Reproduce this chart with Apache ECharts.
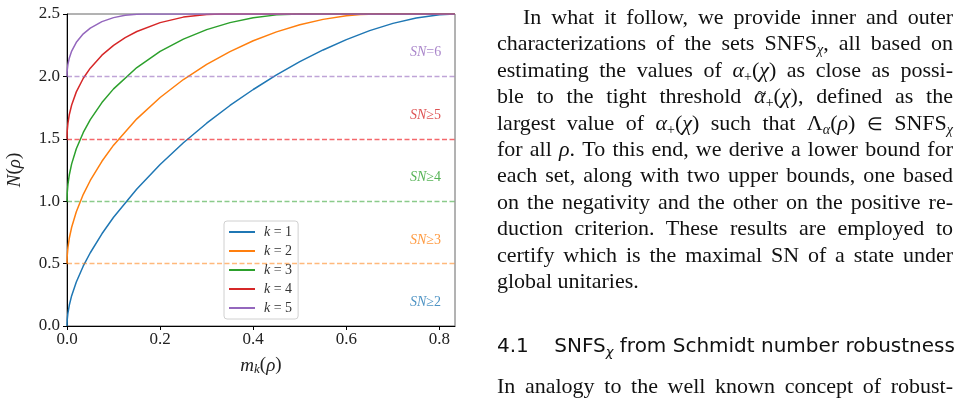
<!DOCTYPE html>
<html>
<head>
<meta charset="utf-8">
<script src="https://cdn.jsdelivr.net/npm/echarts@6/dist/echarts.min.js"></script>
<style>
	html, body { margin: 0; padding: 0; background: #fff; }
	#chart { position: absolute; left: 0; top: 0; width: 969px; height: 405px; }
	#text { position: absolute; left: 497px; top: 4px; width: 456px; font-family: 'Liberation Serif', serif; font-size: 22px; color: #111; }
	#text .ln { height: 26.4px; line-height: 26.4px; white-space: nowrap; text-align: justify; text-align-last: justify; }
	#text .ln.last { text-align-last: left; }
	#text i { font-style: italic; }
	#text sub { font-size: 14px; line-height: 0; vertical-align: -4px; }
	.tl { position: relative; display: inline-block; }
	.tl b { position: absolute; left: 3px; top: 1px; font-weight: normal; font-size: 17px; line-height: 17px; }
	.el { font-size: 18px; }
	#head { position: absolute; left: 497px; top: 333px; width: 456px; font-family: 'DejaVu Sans', sans-serif; font-size: 20px; color: #111; white-space: nowrap; }
	#head sub { font-size: 13px; vertical-align: -4px; line-height: 0; }
	#para { position: absolute; left: 497px; top: 373px; width: 456px; font-family: 'Liberation Serif', serif; font-size: 22px; color: #111; white-space: nowrap; text-align: justify; text-align-last: justify; }
</style>
</head>
<body>
<div id="chart"></div>
<div id="text">
	<div class="ln" style="padding-left:26px">In what it follow, we provide inner and outer</div>
	<div class="ln">characterizations of the sets SNFS<sub><i>χ</i></sub>, all based on</div>
	<div class="ln">estimating the values of <i>α</i><sub>+</sub>(<i>χ</i>) as close as possi-</div>
	<div class="ln">ble to the tight threshold <span class="tl"><i>α</i><b>~</b></span><sub>+</sub>(<i>χ</i>), defined as the</div>
	<div class="ln">largest value of <i>α</i><sub>+</sub>(<i>χ</i>) such that Λ<sub><i>α</i></sub>(<i>ρ</i>) <span class="el">∈</span> SNFS<sub><i>χ</i></sub></div>
	<div class="ln">for all <i>ρ</i>. To this end, we derive a lower bound for</div>
	<div class="ln">each set, along with two upper bounds, one based</div>
	<div class="ln">on the negativity and the other on the positive re-</div>
	<div class="ln">duction criterion. These results are employed to</div>
	<div class="ln">certify which is the maximal SN of a state under</div>
	<div class="ln last">global unitaries.</div>
</div>
<div id="head">4.1&nbsp;&nbsp;&nbsp;&nbsp;SNFS<sub><i>χ</i></sub> from Schmidt number robustness</div>
<div id="para">In analogy to the well known concept of robust-</div>
<script>
// values: m_k(rho) on x, N(rho) on y, one pair of arrays per k
var mK1 = [0, 0.0005, 0.002, 0.005, 0.01, 0.02, 0.035, 0.05, 0.075, 0.1, 0.15, 0.2, 0.25, 0.3, 0.35, 0.4, 0.45, 0.5, 0.55, 0.6, 0.65, 0.7, 0.75, 0.8, 0.833];
var nK1 = [0, 0.051, 0.104, 0.168, 0.243, 0.353, 0.481, 0.587, 0.739, 0.871, 1.098, 1.294, 1.468, 1.625, 1.767, 1.895, 2.012, 2.118, 2.212, 2.295, 2.367, 2.425, 2.468, 2.494, 2.5];

var mK2 = [0, 0.0005, 0.002, 0.005, 0.01, 0.02, 0.035, 0.05, 0.075, 0.1, 0.15, 0.2, 0.25, 0.3, 0.35, 0.4, 0.45, 0.5, 0.55, 0.6, 0.63, 0.667, 0.833];
var nK2 = [0.5, 0.564, 0.628, 0.705, 0.791, 0.916, 1.055, 1.166, 1.32, 1.449, 1.66, 1.831, 1.975, 2.096, 2.199, 2.286, 2.357, 2.414, 2.457, 2.486, 2.496, 2.5, 2.5];

var mK3 = [0, 0.0005, 0.002, 0.005, 0.01, 0.02, 0.035, 0.05, 0.075, 0.1, 0.15, 0.2, 0.25, 0.3, 0.35, 0.4, 0.45, 0.5, 0.833];
var nK3 = [1, 1.067, 1.134, 1.212, 1.299, 1.42, 1.551, 1.654, 1.79, 1.9, 2.071, 2.2, 2.299, 2.375, 2.431, 2.47, 2.493, 2.5, 2.5];

var mK4 = [0, 0.0005, 0.002, 0.005, 0.01, 0.02, 0.035, 0.05, 0.075, 0.1, 0.125, 0.15, 0.2, 0.25, 0.3, 0.333, 0.833];
var nK4 = [1.5, 1.563, 1.624, 1.695, 1.771, 1.876, 1.985, 2.066, 2.17, 2.249, 2.31, 2.36, 2.431, 2.475, 2.496, 2.5, 2.5];

var mK5 = [0, 0.0005, 0.002, 0.005, 0.01, 0.02, 0.035, 0.05, 0.075, 0.1, 0.125, 0.15, 0.167, 0.833];
var nK5 = [2, 2.049, 2.096, 2.148, 2.203, 2.273, 2.341, 2.387, 2.439, 2.471, 2.49, 2.498, 2.5, 2.5];

var seriesNames = ['k=1', 'k=2', 'k=3', 'k=4', 'k=5'];
var thresholds = [null, 0.5, 1.0, 1.5, 2.0];   // dashed line drawn in the colour of curve k
var snLabels = ['≥2', '≥3', '≥4', '≥5', '=6'];
var snLabelY = [0.19, 0.69, 1.19, 1.69, 2.19];
var xTicks = [0, 0.2, 0.4, 0.6, 0.8];
var yTicks = [0, 0.5, 1.0, 1.5, 2.0, 2.5];

var colors = ['#1f77b4', '#ff7f0e', '#2ca02c', '#d62728', '#9467bd'];
var dashColors = [null, 'rgba(255,127,14,0.55)', 'rgba(44,160,44,0.55)', 'rgba(240,40,45,0.7)', 'rgba(148,103,189,0.6)'];
var xs = [mK1, mK2, mK3, mK4, mK5];
var ys = [nK1, nK2, nK3, nK4, nK5];

var serif = 'Liberation Serif';
var myChart = echarts.init(document.getElementById('chart'));

var series = [];
for (var i = 0; i < seriesNames.length; i++) {
	var pts = [];
	for (var j = 0; j < xs[i].length; j++) {
		pts.push([xs[i][j], ys[i][j]]);
	}
	var s = {
		type: 'line',
		name: seriesNames[i],
		data: pts,
		showSymbol: false,
		symbol: 'none',
		silent: true,
		lineStyle: { color: colors[i], width: 1.5 },
		itemStyle: { color: colors[i] },
		z: 3,
		markPoint: {
			silent: true,
			symbol: 'circle',
			symbolSize: 0,
			animation: false,
			label: {
				show: true,
				position: 'inside',
				formatter: '{i|SN}{n|' + snLabels[i] + '}',
				rich: {
					i: { fontFamily: serif, fontStyle: 'italic', fontSize: 14, color: colors[i], opacity: 0.8 },
					n: { fontFamily: serif, fontSize: 14, color: colors[i], opacity: 0.8 }
				}
			},
			data: [{ coord: [0.77, snLabelY[i]] }]
		}
	};
	if (thresholds[i] != null) {
		var ls = { color: dashColors[i], type: [5, 2.5], width: 1.3 };
		s.markLine = {
			silent: true,
			symbol: 'none',
			animation: false,
			label: { show: false },
			lineStyle: ls,
			data: [{ yAxis: thresholds[i], lineStyle: ls }]
		};
	}
	series.push(s);
}

var option = {
	animation: false,
	grid: {
		left: 67, top: 14, width: 388, height: 312,
		show: true, borderColor: '#666', borderWidth: 1
	},
	legend: {
		orient: 'vertical',
		left: 224, top: 221,
		padding: [4, 6, 4, 5],
		itemGap: 5,
		itemWidth: 26,
		itemHeight: 2,
		icon: 'rect',
		backgroundColor: 'rgba(255,255,255,0.85)',
		borderColor: '#d0d0d0',
		borderWidth: 1,
		borderRadius: 3,
		data: seriesNames,
		formatter: function(name) {
			return '{i|k}{n| = ' + name.split('=')[1] + '}';
		},
		textStyle: {
			padding: [0, 0, 0, 4],
			lineHeight: 14,
			rich: {
				i: { fontFamily: serif, fontStyle: 'italic', fontSize: 14, color: '#333' },
				n: { fontFamily: serif, fontSize: 14, color: '#333' }
			}
		}
	},
	xAxis: {
		type: 'value',
		min: 0,
		max: 0.8333,
		name: '{i|m}{s|k}{n|(}{i|ρ}{n|)}',
		nameLocation: 'middle',
		nameGap: 29,
		nameTextStyle: {
			rich: {
				i: { fontFamily: serif, fontStyle: 'italic', fontSize: 19, color: '#222' },
				n: { fontFamily: serif, fontSize: 19, color: '#222' },
				s: { fontFamily: serif, fontStyle: 'italic', fontSize: 13, color: '#222', verticalAlign: 'bottom', padding: [8, 0, 0, 0] }
			}
		},
		splitLine: { show: false },
		axisLine: { show: true, onZero: false, lineStyle: { color: '#000', width: 1 } },
		axisTick: { show: true, length: 4, lineStyle: { color: '#000' }, customValues: xTicks },
		axisLabel: {
			margin: 5,
			customValues: xTicks,
			fontFamily: serif, fontSize: 17, color: '#222',
			formatter: function(v) { return v.toFixed(1); }
		}
	},
	yAxis: {
		type: 'value',
		min: 0,
		max: 2.5,
		interval: 0.5,
		name: '{i|N}{n|(}{i|ρ}{n|)}',
		nameLocation: 'middle',
		nameRotate: 90,
		nameGap: 43,
		nameTextStyle: {
			rich: {
				i: { fontFamily: serif, fontStyle: 'italic', fontSize: 19, color: '#222' },
				n: { fontFamily: serif, fontSize: 19, color: '#222' }
			}
		},
		splitLine: { show: false },
		axisLine: { show: true, onZero: false, lineStyle: { color: '#000', width: 1 } },
		axisTick: { show: true, length: 4, lineStyle: { color: '#000' }, customValues: yTicks },
		axisLabel: {
			margin: 7,
			customValues: yTicks,
			fontFamily: serif, fontSize: 17, color: '#222',
			formatter: function(v) { return v.toFixed(1); }
		}
	},
	series: series
};

myChart.setOption(option);
</script>
</body>
</html>
